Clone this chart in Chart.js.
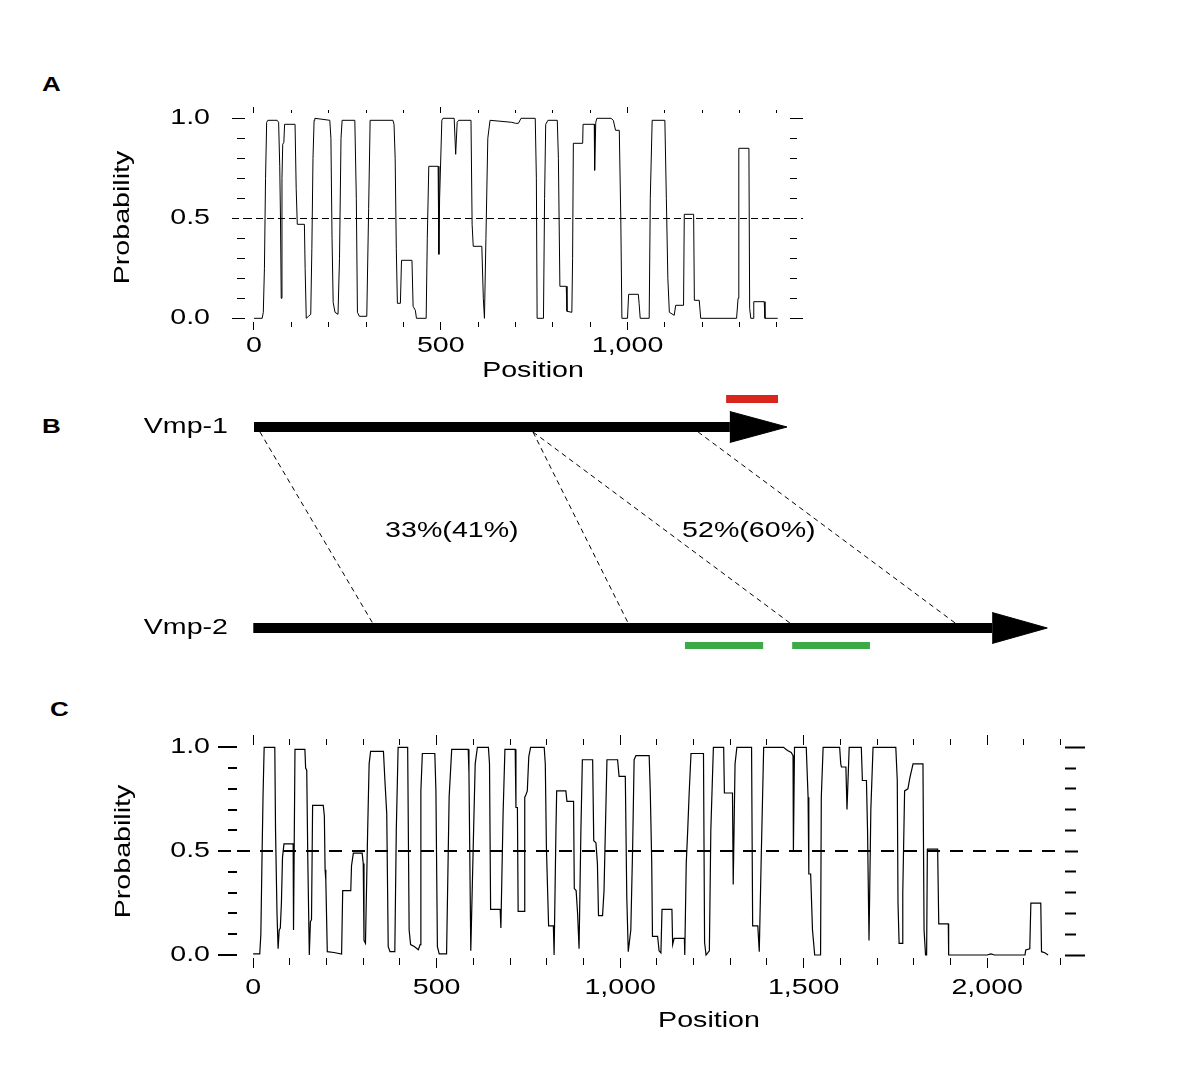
<!DOCTYPE html>
<html>
<head>
<meta charset="utf-8">
<script src="https://cdn.jsdelivr.net/npm/chart.js@4.4.1/dist/chart.umd.min.js"></script>
<style>
  html, body { margin: 0; background: #fff; }
  #fig { position: relative; width: 1193px; height: 1071px; overflow: hidden; background: #fff; }
  #fig canvas { position: absolute; left: 0; }
  .panel { position: absolute; font: bold 20px "Liberation Sans", Arial, sans-serif; line-height: 20px;
           transform: scaleX(1.3); transform-origin: 0 0; }
</style>
</head>
<body>
<div id="fig">
  <div class="panel" style="left:42px;top:74px">A</div>
  <div class="panel" style="left:42px;top:416px">B</div>
  <div class="panel" style="left:50px;top:699px">C</div>
  <canvas id="chartA" width="1193" height="362" style="top:30px"></canvas>
  <canvas id="chartB" width="1193" height="280" style="top:392px"></canvas>
  <canvas id="chartC" width="1193" height="380" style="top:680px"></canvas>
</div>
<script>
// ── Data ───────────────────────────────────────────────────────────────

// [position, probability] for Vmp-1 (panel A) and Vmp-2 (panel C)
const vmp1Profile = [
  [0,0],[22,0],[25,0.03],[28,0.25],[31,0.7],[34,0.98],[37,0.99],[62,0.99],[66,0.98],[69,0.76],
  [71,0.5],[73,0.1],[75,0.7],[77,0.87],[80,0.88],[82,0.97],[110,0.97],[113,0.65],[116,0.47],[135,0.47],
  [137,0.25],[140,0.0],[146,0.01],[152,0.02],[155,0.35],[158,0.8],[161,0.99],[163,1.0],[203,0.99],[206,0.9],
  [209,0.4],[212,0.08],[217,0.03],[225,0.02],[229,0.3],[233,0.9],[236,0.99],[270,0.99],[274,0.6],[277,0.03],
  [282,0.01],[302,0.01],[307,0.55],[311,0.99],[372,0.99],[375,0.97],[378,0.8],[381,0.35],[384,0.075],[392,0.075],
  [395,0.29],[423,0.29],[426,0.06],[432,0.04],[435,0],[461,0],[464,0.4],[468,0.76],[493,0.76],[495,0.32],
  [497,0.6],[503,0.99],[506,1.0],[536,1.0],[540,0.82],[544,0.98],[548,0.99],[581,0.99],[584,0.47],[587,0.36],
  [610,0.36],[614,0.1],[617,0.0],[621,0.4],[626,0.9],[632,0.99],[690,0.98],[700,0.975],[708,0.975],[715,1.0],
  [753,1.0],[756,0.7],[758,0.0],[775,0.0],[778,0.6],[781,0.97],[787,0.99],[812,0.99],[815,0.8],[819,0.16],
  [836,0.16],[838,0.035],[851,0.03],[853,0.3],[855,0.875],[880,0.875],[881,0.97],[911,0.97],[912,0.74],[915,0.98],
  [918,1.0],[956,1.0],[962,0.99],[968,0.94],[978,0.94],[982,0.5],[985,0.0],[1000,0.0],[1003,0.12],[1029,0.12],
  [1031,0.075],[1034,0.0],[1058,0.0],[1061,0.6],[1066,0.99],[1100,0.99],[1104,0.6],[1108,0.2],[1112,0.03],[1125,0.015],
  [1129,0.065],[1150,0.065],[1152,0.52],[1177,0.52],[1179,0.09],[1192,0.09],[1196,0],[1292,0],[1296,0.1],[1298,0.85],
  [1325,0.85],[1327,0.05],[1330,0.0],[1336,0.0],[1338,0.083],[1366,0.083],[1368,0.0],[1402,0.0],
];

const vmp2Profile = [
  [0,0.005],[18,0.005],[21,0.1],[24,0.45],[27,0.77],[30,1.0],[59,1.0],[61,0.6],[65,0.2],[68,0.03],
  [71,0.12],[74,0.13],[77,0.25],[80,0.47],[84,0.535],[109,0.535],[110,0.12],[114,0.99],[141,0.99],[143,0.9],
  [146,0.89],[149,0.45],[153,0.0],[156,0.16],[159,0.17],[162,0.72],[191,0.72],[194,0.67],[196,0.41],[198,0.36],
  [202,0.016],[220,0.012],[241,0.005],[244,0.31],[266,0.31],[268,0.43],[273,0.49],[297,0.49],[300,0.44],[302,0.07],
  [306,0.056],[312,0.6],[316,0.92],[320,0.98],[355,0.98],[359,0.84],[364,0.68],[368,0.04],[373,0.016],[386,0.016],
  [390,0.6],[395,1.0],[421,1.0],[425,0.12],[429,0.05],[440,0.04],[450,0.025],[455,0.05],[457,0.79],[461,0.97],
  [495,0.97],[498,0.79],[502,0.04],[507,0.005],[527,0.005],[534,0.76],[541,0.99],[586,0.99],[588,0.875],[593,0.02],
  [600,0.55],[605,0.92],[611,1.0],[641,1.0],[644,0.92],[647,0.22],[673,0.22],[675,0.13],[681,0.68],[686,0.99],
  [714,0.99],[716,0.71],[720,0.71],[722,0.21],[738,0.21],[740,0.76],[743,0.77],[747,0.79],[751,0.955],[756,1.0],
  [793,1.0],[796,0.92],[799,0.52],[805,0.14],[818,0.14],[820,0.0],[825,0.6],[827,0.79],[852,0.79],[855,0.74],
  [873,0.74],[875,0.32],[880,0.31],[884,0.2],[888,0.03],[893,0.6],[897,0.94],[925,0.94],[928,0.55],[934,0.54],
  [938,0.44],[941,0.19],[952,0.19],[956,0.31],[964,0.94],[993,0.94],[997,0.86],[1014,0.86],[1018,0.28],[1022,0.016],
  [1029,0.12],[1034,0.52],[1038,0.94],[1043,0.96],[1079,0.96],[1082,0.79],[1086,0.44],[1088,0.09],[1102,0.09],[1106,0.02],
  [1111,0.01],[1114,0.22],[1141,0.22],[1143,0.05],[1147,0.08],[1175,0.08],[1176,0.0],[1180,0.44],[1184,0.6],[1188,0.78],
  [1193,0.97],[1227,0.97],[1230,0.06],[1234,0.0],[1243,0.02],[1247,0.6],[1254,1.0],[1282,1.0],[1284,0.78],[1306,0.78],
  [1308,0.34],[1313,0.92],[1318,1.0],[1358,1.0],[1361,0.14],[1375,0.14],[1379,0.016],[1384,0.44],[1391,1.0],[1445,1.0],
  [1456,0.985],[1466,0.975],[1471,0.96],[1472,0.5],[1475,1.0],[1507,1.0],[1512,0.76],[1514,0.39],[1519,0.39],[1524,0.12],
  [1530,0.0],[1546,0.0],[1548,0.76],[1553,1.0],[1598,1.0],[1601,0.92],[1603,0.905],[1615,0.905],[1618,0.7],[1624,1.0],
  [1657,1.0],[1660,0.84],[1671,0.84],[1674,0.6],[1678,0.07],[1683,0.7],[1689,1.0],[1751,1.0],[1755,0.84],[1757,0.25],
  [1760,0.056],[1768,0.056],[1770,0.3],[1775,0.79],[1784,0.8],[1789,0.85],[1798,0.92],[1825,0.92],[1828,0.12],[1832,0.0],
  [1835,0.0],[1837,0.51],[1865,0.51],[1868,0.15],[1894,0.15],[1895,0.0],[2000,0.0],[2010,0.005],[2020,0.0],[2103,0.0],
  [2105,0.024],[2116,0.03],[2119,0.25],[2146,0.25],[2148,0.016],[2157,0.011],[2166,0.0],
];

const cutoff = 0.5;
const probTicks = [0, 0.1, 0.2, 0.3, 0.4, 0.5, 0.6, 0.7, 0.8, 0.9, 1.0];
const probLabels = [0, 0.5, 1.0];
const vmp1PosTicks = [0, 100, 200, 300, 400, 500, 600, 700, 800, 900, 1000, 1100, 1200, 1300, 1400];
const vmp1PosLabels = [0, 500, 1000];
const vmp2PosTicks = [0, 100, 200, 300, 400, 500, 600, 700, 800, 900, 1000, 1100,
                      1200, 1300, 1400, 1500, 1600, 1700, 1800, 1900, 2000, 2100, 2200];
const vmp2PosLabels = [0, 500, 1000, 1500, 2000];

// Panel B: the two proteins drawn as arrows, in their own residue numbering
const trackNames = ['Vmp-1', 'Vmp-2'];
const trackRows = [1, 0];
const trackLengths = [1427, 2163];
const headStarts = [1274, 2013];
// aligned stretches: [Vmp-1 position, Vmp-2 position]
const links = [[16, 325], [747, 1021], [747, 1462], [1189, 1912]];
const identities = ['33%(41%)', '52%(60%)'];
const identityAt = [541, 1350];          // Vmp-2 numbering
const redSpan = [1264, 1403];            // Vmp-1 numbering
const greenSpans = [[1176, 1389], [1468, 1680]];  // Vmp-2 numbering

// ── Look ───────────────────────────────────────────────────────────────

const FONT = '"Liberation Sans", Arial, Helvetica, sans-serif';
const TEXT_STRETCH = 1.3;   // the figure's lettering is set wide
Chart.defaults.font.family = FONT;
Chart.defaults.color = '#000';

// Widen every label the charts draw, around its own anchor point.
Chart.register({
  id: 'wideText',
  beforeInit(chart) {
    const ctx = chart.ctx;
    const fill = ctx.fillText.bind(ctx);
    ctx.fillText = (text, x, y, maxWidth) => {
      ctx.save();
      ctx.translate(x, y);
      ctx.scale(TEXT_STRETCH, 1);
      if (maxWidth === undefined) fill(text, 0, 0);
      else fill(text, 0, 0, maxWidth);
      ctx.restore();
    };
  },
});

const setTicks = (values) => (scale) => { scale.ticks = values.map(value => ({ value })); };

// Minor ticks are shorter: dash away the part of the tick farthest from the plot.
function tickDash(c, isMajor, [major, minor], outerFirst) {
  if (!c.tick || isMajor(c.tick.value)) return [];
  return outerFirst ? [0, major - minor, minor, 100] : [minor, 100];
}

// Free text placed on the chart's scales.
function captions(items) {
  return {
    id: 'captions',
    afterDraw(chart) {
      const { ctx, chartArea } = chart;
      for (const c of items) {
        const x = chart.scales[c.xAxis].getPixelForValue(c.x);
        const y = c.yAxis ? chart.scales[c.yAxis].getPixelForValue(c.y) : chartArea.bottom + c.below;
        ctx.save();
        ctx.font = `22px ${FONT}`;
        ctx.fillStyle = '#000';
        ctx.textAlign = 'center';
        ctx.textBaseline = 'middle';
        ctx.fillText(c.text, x, y);
        ctx.restore();
      }
    },
  };
}

// ── Probability profiles (A, C) ────────────────────────────────────────

function profileChart(id, profile, p) {
  const isMajorX = v => p.xLabels.includes(v);
  const isMajorY = v => probLabels.includes(v);
  const isCut = c => c.tick && c.tick.value === cutoff;
  return new Chart(document.getElementById(id), {
    type: 'line',
    data: {
      datasets: [{
        data: profile.map(([x, y]) => ({ x, y })),
        borderColor: '#000',
        borderWidth: p.lineWidth,
        pointRadius: 0,
        tension: 0,
      }],
    },
    options: {
      responsive: false, animation: false, events: [],
      layout: { padding: p.padding },
      plugins: { legend: { display: false }, tooltip: { enabled: false } },
      scales: {
        x: {
          type: 'linear', position: 'bottom', min: p.xMin, max: p.xMax,
          afterBuildTicks: setTicks(p.xTicks),
          afterFit: s => { s.height = p.bottomH; },
          border: { display: false },
          grid: {
            drawOnChartArea: false, tickLength: p.bottomTick[0], tickColor: '#000', tickWidth: 1,
            tickBorderDash: c => tickDash(c, isMajorX, p.bottomTick, false),
          },
          ticks: {
            autoSkip: false, maxRotation: 0, padding: p.xPad, font: { size: 22 },
            callback: v => p.xLabels.includes(v) ? v.toLocaleString('en-US') : '',
          },
        },
        xTop: {
          type: 'linear', position: 'top', min: p.xMin, max: p.xMax,
          afterBuildTicks: setTicks(p.xTicks),
          afterFit: s => { s.height = p.topTick[0]; },
          border: { display: false },
          grid: {
            drawOnChartArea: false, tickLength: p.topTick[0], tickColor: '#000', tickWidth: 1,
            tickBorderDash: c => tickDash(c, isMajorX, p.topTick, true),
          },
          ticks: { display: false },
        },
        y: {
          type: 'linear', position: 'left', min: p.yMin, max: p.yMax,
          afterBuildTicks: setTicks(probTicks),
          afterFit: s => { s.width = p.leftW; },
          // the dashed 0.5 cut-off runs along this axis' grid
          border: { display: false, dash: p.cutDash },
          grid: {
            color: c => isCut(c) ? '#000' : 'rgba(0,0,0,0)',
            lineWidth: p.cutWidth,
            tickLength: p.leftTick[0], tickColor: '#000', tickWidth: p.yTickWidth,
            tickBorderDash: c => isCut(c) ? p.cutDash : tickDash(c, isMajorY, p.leftTick, true),
          },
          ticks: {
            autoSkip: false, padding: p.yPad, font: { size: 22 },
            callback: v => probLabels.includes(v) ? v.toFixed(1) : '',
          },
          title: { display: true, text: 'Probability', font: { size: 22 }, padding: 0 },
        },
        yRight: {
          type: 'linear', position: 'right', min: p.yMin, max: p.yMax,
          afterBuildTicks: setTicks(probTicks),
          afterFit: s => { s.width = p.rightTick[0]; },
          border: { display: false },
          grid: {
            drawOnChartArea: false, tickLength: p.rightTick[0], tickColor: '#000', tickWidth: p.yTickWidth,
            tickBorderDash: c => isCut(c) ? p.cutDash : tickDash(c, isMajorY, p.rightTick, false),
          },
          ticks: { display: false },
        },
      },
    },
    plugins: [captions([{ text: 'Position', xAxis: 'x', x: p.captionAt, below: p.captionBelow }])],
  });
}

profileChart('chartA', vmp1Profile, {
  xMin: -24, xMax: 1435, yMin: -0.0185, yMax: 1.0265,
  xTicks: vmp1PosTicks, xLabels: vmp1PosLabels,
  padding: { left: 110, right: 390, top: 77, bottom: 8 },
  leftW: 135, bottomH: 62, xPad: 3, yPad: 22,
  topTick: [6, 3], bottomTick: [8, 5], leftTick: [13, 8], rightTick: [13, 7],
  yTickWidth: 1, lineWidth: 1, cutWidth: 1, cutDash: [7, 4],
  captionAt: 747, captionBelow: 49,
});

profileChart('chartC', vmp2Profile, {
  xMin: -44, xMax: 2212, yMin: -0.0144, yMax: 1.011,
  xTicks: vmp2PosTicks, xLabels: vmp2PosLabels,
  padding: { left: 111, right: 108, top: 55, bottom: 26 },
  leftW: 126, bottomH: 76, xPad: 7, yPad: 8,
  topTick: [10, 6], bottomTick: [10, 7], leftTick: [19, 9], rightTick: [20, 11],
  yTickWidth: 2, lineWidth: 1.2, cutWidth: 2, cutDash: [13, 10],
  captionAt: 1242, captionBelow: 63,
});

// ── Alignment sketch (B) ───────────────────────────────────────────────

const SHAFT = 10;          // arrow body thickness, px
const HEAD = 0.077;        // arrowhead half-height, in row units
const RED_ROW = 1.139;
const GREEN_ROW = -0.087;
const trackAxes = ['x1', 'x2'];

const bDatasets = [];
trackNames.forEach((name, i) => {
  const row = trackRows[i];
  bDatasets.push({
    label: name, xAxisID: trackAxes[i],
    data: [{ x: 0, y: row }, { x: headStarts[i], y: row }],
    borderColor: '#000', borderWidth: SHAFT, borderCapStyle: 'butt', clip: false,
  });
  bDatasets.push({
    label: name + ' head', xAxisID: trackAxes[i],
    data: [{ x: headStarts[i], y: row + HEAD }, { x: trackLengths[i], y: row }, { x: headStarts[i], y: row - HEAD }],
    borderColor: '#000', borderWidth: 1, backgroundColor: '#000', fill: 'shape', clip: false,
  });
});
bDatasets.push({
  label: 'Vmp-1 region', xAxisID: 'x1',
  data: redSpan.map(x => ({ x, y: RED_ROW })),
  borderColor: '#d8261d', borderWidth: 8, borderCapStyle: 'butt', clip: false,
});
greenSpans.forEach((span, i) => bDatasets.push({
  label: 'Vmp-2 region ' + (i + 1), xAxisID: 'x2',
  data: span.map(x => ({ x, y: GREEN_ROW })),
  borderColor: '#3dab45', borderWidth: 7, borderCapStyle: 'butt', clip: false,
}));

// dashed joins between Vmp-1 and Vmp-2 positions (two different x scales)
const linksPlugin = {
  id: 'links',
  beforeDatasetsDraw(chart) {
    const { ctx, scales } = chart;
    const yTop = scales.y.getPixelForValue(trackRows[0]) + SHAFT / 2;
    const yBot = scales.y.getPixelForValue(trackRows[1]) - SHAFT / 2;
    ctx.save();
    ctx.strokeStyle = '#000';
    ctx.lineWidth = 1;
    ctx.setLineDash([5, 4]);
    for (const [a, b] of links) {
      ctx.beginPath();
      ctx.moveTo(scales.x1.getPixelForValue(a), yTop);
      ctx.lineTo(scales.x2.getPixelForValue(b), yBot);
      ctx.stroke();
    }
    ctx.restore();
  },
};

new Chart(document.getElementById('chartB'), {
  type: 'line',
  data: { datasets: bDatasets },
  options: {
    responsive: false, animation: false, events: [],
    layout: { padding: { top: 15, bottom: 15 } },
    elements: { point: { radius: 0 }, line: { tension: 0 } },
    plugins: { legend: { display: false }, tooltip: { enabled: false } },
    scales: {
      x1: { type: 'linear', display: false, min: -69.6, max: 2514 },
      x2: { type: 'linear', display: false, min: -68.9, max: 2560 },
      y: {
        type: 'linear', min: -0.1443, max: 1.0995,
        afterBuildTicks: setTicks(trackRows),
        afterFit: s => { s.width = 228; },
        border: { display: false },
        grid: { display: false, drawTicks: false },
        ticks: { padding: 0, font: { size: 22 }, callback: v => trackNames[trackRows.indexOf(v)] },
      },
    },
  },
  plugins: [
    linksPlugin,
    captions(identities.map((text, i) => ({ text, xAxis: 'x2', x: identityAt[i], yAxis: 'y', y: 0.485 }))),
  ],
});
</script>
</body>
</html>
